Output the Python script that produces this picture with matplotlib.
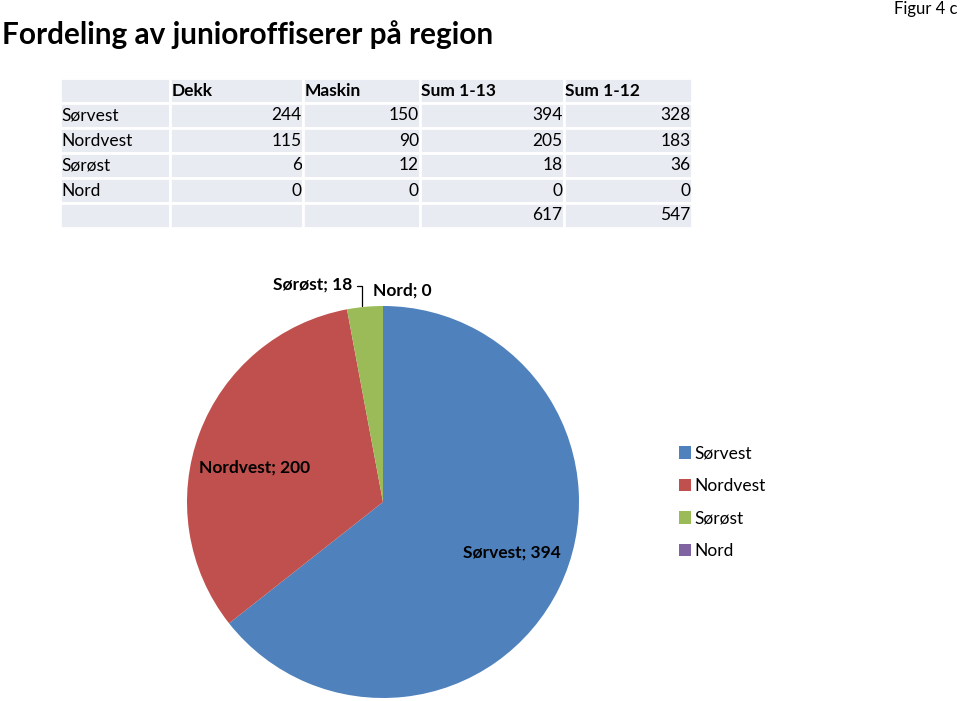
import numpy as np
import matplotlib.pyplot as plt

plt.rcParams['font.family'] = ['Lato', 'DejaVu Sans']

# tabelldata
kolonner = ["", "Dekk", "Maskin", "Sum 1-13", "Sum 1-12"]
regioner = ["Sørvest", "Nordvest", "Sørøst", "Nord"]
dekk = [244, 115, 6, 0]
maskin = [150, 90, 12, 0]
sum_1_13 = [394, 205, 18, 0]
sum_1_12 = [328, 183, 36, 0]
total_1_13 = 617
total_1_12 = 547

# kakediagram (etikettene i figuren viser 200 for Nordvest)
kake_verdier = [394, 200, 18, 0]
farger = ["#4F81BD", "#C0504D", "#9BBB59", "#8064A2"]

W, H = 960, 701
fig = plt.figure(figsize=(9.6, 7.01), dpi=100)

def fx(px):
    return px / W

def fy(py):
    return 1 - py / H

fig.text(fx(2), fy(35), "Fordeling av junioroffiserer på region",
         fontsize=21.4, fontweight="bold", va="center", ha="left")
fig.text(fx(957), fy(9), "Figur 4 c", fontsize=12, va="center", ha="right")

# tabell
tax = fig.add_axes([fx(60), fy(228), fx(692) - fx(60), fy(78) - fy(228)])
tax.axis("off")
celler = [kolonner]
for i, r in enumerate(regioner):
    celler.append([r, str(dekk[i]), str(maskin[i]), str(sum_1_13[i]), str(sum_1_12[i])])
celler.append(["", "", "", str(total_1_13), str(total_1_12)])
bredder = np.array([110, 133, 117, 144, 128], dtype=float)
tab = tax.table(cellText=celler, bbox=[0, 0, 1, 1], colWidths=list(bredder / bredder.sum()))
tab.auto_set_font_size(False)
for (r, c), cell in tab.get_celld().items():
    cell.set_facecolor("#E9EBF2")
    cell.set_edgecolor("white")
    cell.set_linewidth(2)
    txt = cell.get_text()
    txt.set_fontsize(12.5)
    if r == 0:
        txt.set_fontweight("bold")
        cell._loc = "left"
        txt.set_ha("left")
        cell.PAD = 0.01
    elif c == 0:
        cell._loc = "left"
        txt.set_ha("left")
        cell.PAD = 0.01
    else:
        cell._loc = "right"
        txt.set_ha("right")
        cell.PAD = 0.01

# kake
cx, cy, rad = 383, 502, 196
pax = fig.add_axes([fx(cx - rad), fy(cy + rad), fx(2 * rad), fy(cy - rad) - fy(cy + rad)])
wedges, _ = pax.pie(kake_verdier, colors=farger, startangle=90, counterclock=False,
                    radius=1, wedgeprops=dict(linewidth=0))
pax.set_xlim(-1, 1)
pax.set_ylim(-1, 1)
pax.set_aspect("auto")
pax.axis("off")

def midt(w):
    return np.deg2rad((w.theta1 + w.theta2) / 2)

for i, dx, dy in [(0, 0.03, 0.05), (1, 0.0, -0.07)]:
    a = midt(wedges[i])
    pax.text(0.7 * np.cos(a) + dx, 0.7 * np.sin(a) + dy,
             f"{regioner[i]}; {kake_verdier[i]}", fontsize=12.5, fontweight="bold",
             ha="center", va="center")

a = midt(wedges[2])
pax.annotate(f"{regioner[2]}; {kake_verdier[2]}", xy=(-0.107, np.sin(a) + 0.005),
             xytext=(-0.357, 1.112), textcoords="data", fontsize=12.5, fontweight="bold",
             ha="center", va="center", annotation_clip=False,
             arrowprops=dict(arrowstyle="-", color="black", lw=0.9,
                             connectionstyle="angle,angleA=0,angleB=90,rad=0",
                             shrinkA=1, shrinkB=0, relpos=(1.0, 0.35)))
pax.text(0.097, 1.08, f"{regioner[3]}; {kake_verdier[3]}", fontsize=12.5,
         fontweight="bold", ha="center", va="center")

fig.legend(wedges, regioner, loc="upper left", bbox_to_anchor=(fx(663), fy(430)),
           frameon=False, fontsize=12.5, handlelength=0.7, handleheight=0.7,
           handletextpad=0.2, labelspacing=0.95)

fig.savefig("out.png", dpi=100)
